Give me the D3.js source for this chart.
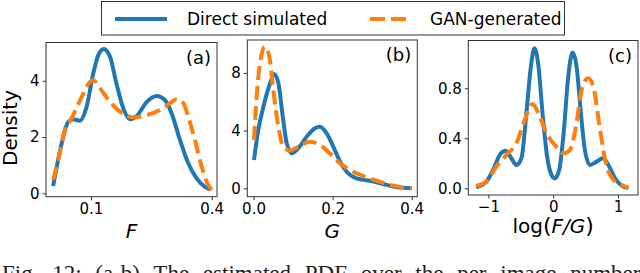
<!DOCTYPE html>
<html>
<head>
<meta charset="utf-8">
<script src="https://cdn.jsdelivr.net/npm/d3@7"></script>
<style>
  body { margin: 0; background: #fff; overflow: hidden; }
  svg { display: block; }
</style>
</head>
<body>
<script>
// series: [x, density]
var fDirect = [[0.0648,0.26],[0.0715,1.78],[0.077,2.54],[0.0816,2.63],[0.088,2.58],[0.0952,3.08],
  [0.1027,4.26],[0.1088,4.91],[0.116,5.13],[0.1245,4.85],[0.134,3.9],[0.145,3.02],[0.1565,2.63],
  [0.169,2.75],[0.19,3.25],[0.213,3.46],[0.234,3.31],[0.2526,2.84],[0.278,1.89],[0.3056,1.07],
  [0.3365,0.53],[0.37,0.23],[0.395,0.14]];
var fGan = [[0.0648,0.47],[0.0687,1.18],[0.074,2.25],[0.08,2.66],[0.09,3.43],[0.0989,3.96],
  [0.1027,4.02],[0.111,3.73],[0.1245,3.25],[0.1396,2.9],[0.1626,2.7],[0.19,2.78],[0.221,2.96],
  [0.2476,3.2],[0.2676,3.34],[0.289,3.2],[0.3056,2.72],[0.33,1.89],[0.3566,0.95],[0.38,0.36],[0.4,0.12]];

var gDirect = [[0.0013,1.96],[0.012,4.04],[0.025,5.66],[0.042,7.28],[0.052,7.93],[0.063,7.28],
  [0.074,4.97],[0.084,3.12],[0.0966,2.43],[0.113,2.77],[0.1345,3.58],[0.1555,4.16],[0.168,4.27],
  [0.185,3.81],[0.202,2.88],[0.219,1.84],[0.2356,1.15],[0.261,0.69],[0.2946,0.53],[0.328,0.3],
  [0.362,0.07],[0.4,0]];
var gGan = [[0.0013,3.35],[0.008,6.35],[0.0164,8.67],[0.029,9.82],[0.04,9.13],[0.05,6.82],
  [0.0628,4.27],[0.0754,2.88],[0.092,2.61],[0.113,2.88],[0.143,3.23],[0.168,3.0],[0.193,2.43],
  [0.219,1.73],[0.244,1.27],[0.278,0.85],[0.3115,0.53],[0.345,0.23],[0.375,0.07],[0.4,0]];

var rDirect = [[-1.19,0.008],[-1.03,0.053],[-0.904,0.173],[-0.816,0.274],[-0.733,0.3],[-0.645,0.24],
  [-0.568,0.186],[-0.49,0.24],[-0.413,0.6],[-0.35,0.946],[-0.288,1.12],[-0.226,0.973],[-0.164,0.6],
  [-0.093,0.253],[-0.025,0.106],[0.026,0.08],[0.093,0.146],[0.166,0.466],[0.233,0.893],[0.3,1.085],
  [0.362,0.973],[0.424,0.626],[0.49,0.306],[0.569,0.186],[0.673,0.213],[0.766,0.24],[0.853,0.186],
  [0.956,0.08],[1.085,0.013],[1.163,0.003]];
var rGan = [[-1.19,0.02],[-1.03,0.053],[-0.878,0.173],[-0.722,0.266],[-0.568,0.36],[-0.439,0.546],
  [-0.32,0.674],[-0.206,0.573],[-0.103,0.44],[0.026,0.346],[0.155,0.28],[0.259,0.306],[0.352,0.493],
  [0.44,0.786],[0.543,0.88],[0.631,0.786],[0.724,0.466],[0.828,0.173],[0.93,0.066],[1.06,0.026],[1.163,0.005]];

var fTicks = [0.1, 0.4], fYTicks = [0, 2, 4];
var gTicks = [0, 0.2, 0.4], gYTicks = [0, 4, 8];
var rTicks = [-1, 0, 1], rYTicks = [0, 0.4, 0.8];

var seriesNames = ["Direct simulated", "GAN-generated"];
var colors = ["#1f77b4", "#ff7f0e"];

var width = 640, height = 273;
var svg = d3.select("body").append("svg").attr("width", width).attr("height", height);

var panels = [
  { id: "(a)", lines: [fDirect, fGan], x: d3.scaleLog().domain([0.0597, 0.425]).range([46, 217]),
    y: d3.scaleLinear().domain([-0.12, 5.36]).range([196.7, 42.5]),
    xt: fTicks, yt: fYTicks, xf: d3.format(".1f"), yf: d3.format("d"), label: "F" },
  { id: "(b)", lines: [gDirect, gGan], x: d3.scaleLinear().domain([-0.0157, 0.4142]).range([247.3, 417.3]),
    y: d3.scaleLinear().domain([-0.58, 10.28]).range([196.7, 40]),
    xt: gTicks, yt: gYTicks, xf: d3.format(".1f"), yf: d3.format("d"), label: "G" },
  { id: "(c)", lines: [rDirect, rGan], x: d3.scaleLinear().domain([-1.31, 1.31]).range([468.3, 638]),
    y: d3.scaleLinear().domain([-0.054, 1.182]).range([195, 40.5]),
    xt: rTicks, yt: rYTicks, xf: d3.format("d"), yf: d3.format(".1f"), label: "log" }
];

function styleAxis(a) {
  a.select(".domain").remove();
  a.attr("font-family", "DejaVu Sans, sans-serif").attr("font-size", 15);
  a.selectAll(".tick line").attr("stroke", "#333");
  a.selectAll(".tick text").attr("fill", "#000");
}

panels.forEach(function (p, i) {
  var x0 = p.x.range()[0], x1 = p.x.range()[1];
  var yb = p.y.range()[0], yt = p.y.range()[1];
  var g = svg.append("g");
  var clipId = "clip" + i;
  g.append("clipPath").attr("id", clipId).append("rect")
    .attr("x", x0).attr("y", yt).attr("width", x1 - x0).attr("height", yb - yt);

  var line = d3.line()
    .x(function (d) { return p.x(d[0]); })
    .y(function (d) { return p.y(d[1]); })
    .curve(d3.curveMonotoneX);

  p.lines.forEach(function (data, k) {
    g.append("path")
      .attr("d", line(data))
      .attr("clip-path", "url(#" + clipId + ")")
      .attr("fill", "none")
      .attr("stroke", colors[k])
      .attr("stroke-width", 4)
      .attr("stroke-dasharray", k == 1 ? "14,6" : null);
  });

  g.append("g").attr("transform", "translate(0," + yb + ")")
    .call(d3.axisBottom(p.x).tickValues(p.xt).tickFormat(function (d) {
      return p.xf(d).replace("-", "\u2212");
    }).tickSize(3.5).tickPadding(3))
    .call(styleAxis);

  g.append("g").attr("transform", "translate(" + x0 + ",0)")
    .call(d3.axisLeft(p.y).tickValues(p.yt).tickFormat(p.yf).tickSize(3.5).tickPadding(3))
    .call(styleAxis);

  g.append("rect")
    .attr("x", x0).attr("y", yt).attr("width", x1 - x0).attr("height", yb - yt)
    .attr("fill", "none").attr("stroke", "#333").attr("stroke-width", 1);

  g.append("text")
    .attr("x", x1 - 6).attr("y", yt + 21)
    .attr("text-anchor", "end")
    .attr("font-family", "DejaVu Sans, sans-serif")
    .attr("font-size", "18px")
    .text(p.id);

  var xl = g.append("text")
    .attr("x", (x0 + x1) / 2)
    .attr("y", i == 2 ? 233 : 238)
    .attr("text-anchor", "middle")
    .attr("font-family", "DejaVu Sans, sans-serif")
    .attr("font-size", "20px");
  if (i == 2) {
    xl.append("tspan").text("log");
    xl.append("tspan").attr("font-size", "22px").text("(");
    xl.append("tspan").attr("font-style", "italic").text("F");
    xl.append("tspan").attr("font-style", "italic").text("/");
    xl.append("tspan").attr("font-style", "italic").text("G");
    xl.append("tspan").attr("font-size", "22px").text(")");
  } else {
    xl.attr("font-style", "italic").text(p.label);
  }
});

svg.append("text")
  .attr("transform", "translate(17,128) rotate(-90)")
  .attr("text-anchor", "middle")
  .attr("font-family", "DejaVu Sans, sans-serif")
  .attr("font-size", "20px")
  .text("Density");

// legend
var legend = svg.append("g");
legend.append("rect")
  .attr("x", 101.5).attr("y", 1.5).attr("width", 463).attr("height", 33.5)
  .attr("fill", "#fff").attr("stroke", "#333").attr("stroke-width", 1);
var legX = [[115, 167, 187], [370, 412, 430]];
seriesNames.forEach(function (name, k) {
  legend.append("line")
    .attr("x1", legX[k][0]).attr("x2", legX[k][1]).attr("y1", 19).attr("y2", 19)
    .attr("stroke", colors[k]).attr("stroke-width", 4)
    .attr("stroke-dasharray", k == 1 ? "15,6" : null);
  legend.append("text")
    .attr("x", legX[k][2]).attr("y", 25)
    .attr("font-family", "DejaVu Sans, sans-serif")
    .attr("font-size", "17px")
    .text(name);
});

// caption (cut off at the bottom in the picture, as in the reference)
svg.append("text")
  .attr("x", 2).attr("y", 281)
  .attr("font-family", "Liberation Serif, serif")
  .attr("font-size", "23px")
  .attr("word-spacing", "8px")
  .attr("fill", "#222")
  .text("Fig. 12: (a-b) The estimated PDF over the per image number");
</script>
</body>
</html>
